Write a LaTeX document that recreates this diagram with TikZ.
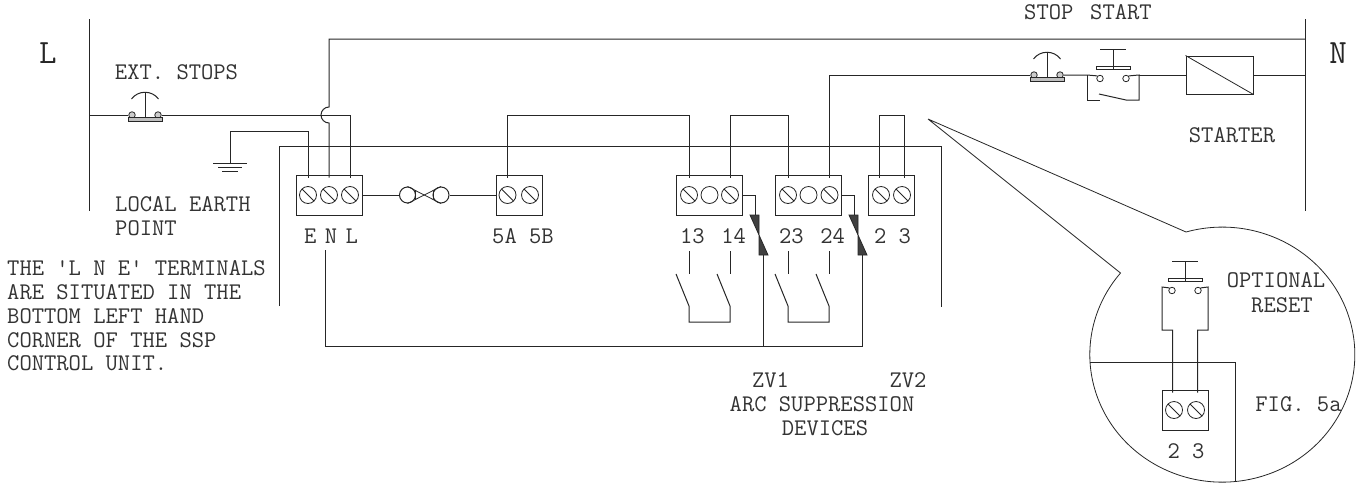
\documentclass[tikz,border=0pt]{standalone}
\usepackage{amssymb,amsmath}
\usepackage{tikz}
\tikzset{
    wire/.style={draw=black!85, line width=1pt},
    thinwire/.style={draw=black!85, line width=0.8pt},
    legend/.style={inner sep=0pt, text=black!80, font=\fontsize{23.9}{24}\ttfamily},
    legendleft/.style={legend, anchor=base west},
    legendmid/.style={legend, anchor=base},
    busname/.style={inner sep=0pt, text=black!85, anchor=base, font=\fontsize{34}{34}\ttfamily},
    termbox/.style={draw=black!85, line width=1pt, inner sep=0pt, minimum height=40pt},
    plainscrew/.style={circle, draw=black!85, line width=0.8pt, inner sep=0pt, minimum size=17pt},
    screw/.style={plainscrew, path picture={\draw[thinwire]
        (path picture bounding box.north west) -- (path picture bounding box.south east);}},
    stud/.style={circle, draw=black!85, line width=0.8pt, inner sep=0pt, minimum size=6.5pt},
    loopnode/.style={circle, draw=black!85, line width=1pt, inner sep=0pt, minimum size=16pt},
    stopbutton/.pic={
        \node[stud, fill=black!20] (-l) at (-13,0) {};
        \node[stud, fill=black!20] (-r) at (13,0) {};
        \draw[wire, fill=black!25] (-17,2) rectangle (17,6);
        \draw[wire] (0,2) -- (0,-22);
        \draw[wire] (-13.5,-16) .. controls (-7,-25) and (7,-25) .. (13.5,-16);
    },
    startbutton/.pic={
        \node[stud] (-l) at (-13,3.5) {};
        \node[stud] (-r) at (13,3.5) {};
        \draw[wire, fill=white] (-17,-9) rectangle (17,-6);
        \draw[wire] (0,-6) -- (0,-26);
        \draw[wire] (-13,-26) -- (13,-26);
    },
    contactpair/.pic={
        \draw[wire] (0,0) -- (0,23);
        \draw[wire] (-13,23) -- (0,55) -- (0,71) -- (41,71) -- (41,55) -- (28,23);
        \draw[wire] (41,0) -- (41,23);
    },
    suppressor/.pic={
        \fill[black!75] (-9,0) -- (0,0) -- (0,20) -- cycle;
        \fill[black!75] (0,20) -- (9,40) -- (0,40) -- cycle;
        \draw[thinwire] (-9,0) -- (0,0) -- (0,40) -- (9,40) -- cycle;
        \coordinate (-in) at (-4,0);
        \coordinate (-out) at (4,40);
    }
}

\begin{document}
\begin{tikzpicture}[x=1pt,y=-1pt]
	\useasboundingbox (0,0) rectangle (1359,485);
	% supply bars
	\coordinate (Ltop) at (89,19);
	\coordinate (Lbot) at (89,211);
	\coordinate (Lfeed) at (89,115);
	\coordinate (Ntop) at (1305,19);
	\coordinate (Nbot) at (1305,211);
	\coordinate (Nreturn) at (1305,39);
	\coordinate (Nfeed) at (1305,75);
	\draw[wire] (Ltop) -- (Lbot);
	\draw[wire] (Ntop) -- (Nbot);
	\node[busname] (nameL) at (48,63) {L};
	\node[busname] (nameN) at (1338,63) {N};

	% terminal blocks
	\node[termbox, minimum width=66pt] (boxENL) at (329,195) {};
	\node[screw] (scrE) at (308,195) {};
	\node[screw] (scrN) at (329,195) {};
	\node[screw] (scrL) at (350,195) {};
	\node[termbox, minimum width=46pt] (box5) at (519,195) {};
	\node[screw] (scr5A) at (507.5,195) {};
	\node[screw] (scr5B) at (530,195) {};
	\node[termbox, minimum width=66pt] (box13) at (709,195) {};
	\node[screw] (scr13) at (689,195) {};
	\node[plainscrew] (scrX) at (709.5,195) {};
	\node[screw] (scr14) at (730,195) {};
	\node[termbox, minimum width=66pt] (box23) at (808.5,195) {};
	\node[screw] (scr23) at (788,195) {};
	\node[plainscrew] (scrY) at (808.5,195) {};
	\node[screw] (scr24) at (829.5,195) {};
	\node[termbox, minimum width=46pt] (box2) at (891,195) {};
	\node[screw] (scr2) at (881,195) {};
	\node[screw] (scr3) at (902,195) {};

	% switches and starter
	\pic (extstop) at (145,115) {stopbutton};
	\pic (stop) at (1047,75) {stopbutton};
	\pic (start) at (1113,75) {startbutton};
	\node[draw=black!85, line width=1pt, inner sep=0pt, minimum width=67pt, minimum height=38pt] (starter) at (1219.5,75) {};
	\draw[thinwire] (starter.north west) -- (starter.south east);

	% incoming wiring
	\coordinate (jumpA) at (329,123);
	\coordinate (jumpB) at (329,107);
	\coordinate (retcorner) at (329,39);
	\draw[wire] (Lfeed) -- (extstop-l.west);
	\draw[wire] (extstop-r.east) -| ([yshift=8.5pt]scrL.north);
	\draw[wire] ([yshift=8.5pt]scrN.north) -- (jumpA) arc[start angle=-90, end angle=-270, radius=8pt] -- (retcorner) -- (Nreturn);

	% earth
	\coordinate (earthtop) at (230,131);
	\coordinate (earthgnd) at (230,163);
	\draw[wire] ([yshift=8.5pt]scrE.north) |- (earthtop) -- (earthgnd);
	\draw[wire] ([xshift=-17pt]earthgnd) -- ([xshift=17pt]earthgnd);
	\draw[wire] ([shift={(-12pt,-4pt)}]earthgnd) -- ([shift={(12pt,-4pt)}]earthgnd);
	\draw[wire] ([shift={(-8pt,-8pt)}]earthgnd) -- ([shift={(8pt,-8pt)}]earthgnd);

	% panel outline
	\coordinate (panelA) at (279,306);
	\coordinate (panelB) at (279,146.5);
	\coordinate (panelC) at (941,146.5);
	\coordinate (panelD) at (941,307);
	\draw[wire] (panelA) -- (panelB) -- (panelC) -- (panelD);

	% link between the blocks
	\node[loopnode] (loopA) at (407.5,195) {};
	\node[loopnode] (loopB) at (441,195) {};
	\draw[wire] (boxENL.east) -- (loopA.west);
	\draw[wire] (loopB.east) -- (box5.west);
	\draw[thinwire] (loopA.north) -- (loopB.south);
	\draw[thinwire] (loopA.south) -- (loopB.north);
	\draw[thinwire] (415.5,191) -- (415.5,199);
	\draw[thinwire] (433,191) -- (433,199);

	% bridges on top
	\coordinate (runA) at (507.5,115);
	\coordinate (runB) at (730,115);
	\coordinate (runC) at (879,115);
	\draw[wire] ([yshift=8.5pt]scr5A.north) -- (runA) -| ([yshift=8.5pt]scr13.north);
	\draw[wire] ([yshift=8.5pt]scr14.north) -- (runB) -| ([yshift=8.5pt]scr23.north);
	\draw[wire] ([shift={(-2pt,8.5pt)}]scr2.north) -- (runC) -| ([shift={(2pt,8.5pt)}]scr3.north);

	% line to the stop button, starter
	\coordinate (startL) at (1087,75);
	\coordinate (startR) at (1139,75);
	\coordinate (startLb) at (1087,100);
	\coordinate (startRb) at (1139,100);
	\draw[wire] ([yshift=8.5pt]scr24.north) |- (stop-l.west);
	\draw[wire] (stop-r.east) -- (startL) -- (start-l.north west);
	\draw[wire] (startL) -- (startLb) -- (1100,100);
	\draw[wire] (1099,94) -- (1126,100) -- (startRb) -- (startR) -- (start-r.north east);
	\draw[wire] (startR) -- (starter.west);
	\draw[wire] (starter.east) -- (Nfeed);

	% contacts and suppressors
	\pic (pairA) at (689,251) {contactpair};
	\pic (pairB) at (788,251) {contactpair};
	\pic (zvA) at (759,215) {suppressor};
	\pic (zvB) at (858,215) {suppressor};
	\coordinate (commonL) at (325,250);
	\coordinate (commonA) at (763,346);
	\coordinate (commonB) at (862,346);
	\draw[wire] (box13.east) -| (zvA-in);
	\draw[wire] (box23.east) -| (zvB-in);
	\draw[wire] (commonL) |- (commonB) -- (zvB-out);
	\draw[wire] (zvA-out) -- (commonA);

	% callout
	\coordinate (apex) at (928,119);
	\coordinate (rimA) at (1186,232);
	\coordinate (rimB) at (1121,273);
	\draw[thinwire] (apex) -- (rimA) arc[start angle=105.9, end angle=-219.8, x radius=132.5pt, y radius=127.5pt] -- (apex);
	\pic (reset) at (1185,287) {startbutton};
	\node[termbox, minimum width=46pt] (boxR) at (1185,410) {};
	\node[screw] (scrR2) at (1174,410) {};
	\node[screw] (scrR3) at (1196,410) {};
	\coordinate (resetA) at (1172.5,330);
	\coordinate (resetB) at (1197.5,330);
	\coordinate (resetC) at (1162,330);
	\coordinate (resetD) at (1208,330);
	\coordinate (resetE) at (1162,287);
	\coordinate (resetF) at (1208,287);
	\draw[wire] ([shift={(-1.5pt,8.5pt)}]scrR2.north) -- (resetA) -- (resetC) -- (resetE) -- (reset-l.north west);
	\draw[wire] ([shift={(1.5pt,8.5pt)}]scrR3.north) -- (resetB) -- (resetD) -- (resetF) -- (reset-r.north east);
	\coordinate (cutA) at (1090,362);
	\coordinate (cutB) at (1235,362);
	\coordinate (cutC) at (1235,481);
	\draw[thinwire] (cutA) -- (cutB) -- (cutC);

	% legends
	\node[legendmid] (txtExt) at (176.5,79) {EXT. STOPS};
	\node[legendleft] (txtEarthA) at (115,211) {LOCAL EARTH};
	\node[legendleft] (txtEarthB) at (115,235) {POINT};
	\node[legendmid, execute at begin node={\spaceskip=8.5pt}] (txtENL) at (331,243) {E N L};
	\node[legendmid] (txt5) at (523,243) {5A 5B};
	\node[legendmid, execute at begin node={\spaceskip=16.5pt}] (txt13) at (713,243) {13 14};
	\node[legendmid, execute at begin node={\spaceskip=16.5pt}] (txt23) at (812,243) {23 24};
	\node[legendmid] (txt2) at (892.5,243) {2 3};
	\node[legendleft] (txtNoteA) at (7,275) {THE 'L N E' TERMINALS};
	\node[legendleft] (txtNoteB) at (7,299) {ARE SITUATED IN THE};
	\node[legendleft] (txtNoteC) at (7,323) {BOTTOM LEFT HAND};
	\node[legendleft] (txtNoteD) at (7,347) {CORNER OF THE SSP};
	\node[legendleft] (txtNoteE) at (7,370) {CONTROL UNIT.};
	\node[legendmid] (txtZVA) at (770.5,387) {ZV1};
	\node[legendmid] (txtZVB) at (908,387) {ZV2};
	\node[legendmid] (txtArcA) at (822,411) {ARC SUPPRESSION};
	\node[legendmid] (txtArcB) at (825,435) {DEVICES};
	\node[legendleft] (txtStop) at (1024,19) {STOP};
	\node[legendleft] (txtStart) at (1090,19) {START};
	\node[legendmid] (txtStarter) at (1232,142) {STARTER};
	\node[legendmid] (txtOptA) at (1276,287) {OPTIONAL};
	\node[legendmid] (txtOptB) at (1282,312) {RESET};
	\node[legendmid] (txtFig) at (1298.5,411) {FIG. 5a};
	\node[legendmid] (txtR) at (1186,458) {2 3};
\end{tikzpicture}
\end{document}
